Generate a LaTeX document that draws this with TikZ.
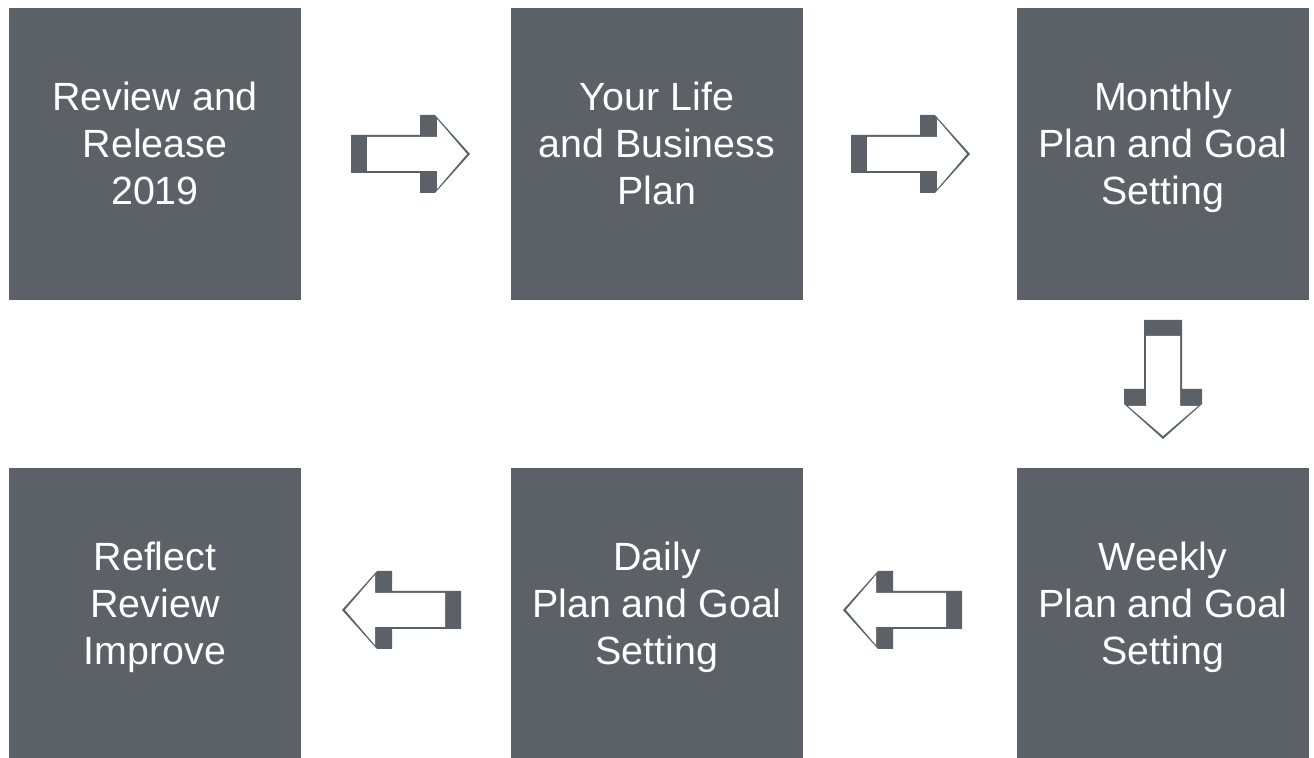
\documentclass[tikz,border=0pt]{standalone}
\usepackage{fontspec}
\setmainfont{Liberation Sans}
\usepackage{xcolor}
\usetikzlibrary{calc}

\definecolor{slate}{RGB}{92,96,103}

% box text sits a little above the middle of the box
\newcommand\steptext[1]{\raisebox{0.06cm}[\height][\depth]{\begin{tabular}{@{}c@{}}#1\end{tabular}}}

% hollow block arrow pointing right, drawn around its own origin
\tikzset{
  blockarrow/.pic={
    \fill[slate] (-59,19) -- (10,19) -- (10,39) -- (25,39) -- (60,0)
      -- (25,-39) -- (10,-39) -- (10,-19) -- (-59,-19) -- cycle;
    \fill[white] (-43,17) -- (27,17) -- (27,35) -- (57,0)
      -- (27,-35) -- (27,-17) -- (-43,-17) -- cycle;
  }
}

\begin{document}
\begin{tikzpicture}[x=0.01cm,y=-0.01cm,
    step box/.style={fill=slate,text=white,minimum width=2.92cm,
      minimum height=2.92cm,inner sep=0pt,
      font=\fontsize{11.2}{13.5}\selectfont}]
  \useasboundingbox (0,0) rectangle (1314,758);

  \node[step box] (review)  at (155,154)  {\steptext{Review and\\Release\\2019}};
  \node[step box] (life)    at (657,154)  {\steptext{Your Life\\and Business\\Plan}};
  \node[step box] (monthly) at (1163,154) {\steptext{Monthly\\Plan and Goal\\Setting}};
  \node[step box] (weekly)  at (1163,614) {\steptext{Weekly\\Plan and Goal\\Setting}};
  \node[step box] (daily)   at (657,614)  {\steptext{Daily\\Plan and Goal\\Setting}};
  \node[step box] (reflect) at (155,614)  {\steptext{Reflect\\Review\\Improve}};

  % arrows between the steps
  \path ($(review.east)!0.5!(life.west)+(4,0)$)    pic {blockarrow};
  \path ($(life.east)!0.5!(monthly.west)$)         pic {blockarrow};
  \path ($(monthly.south)!0.5!(weekly.north)+(0,-5)$) pic[rotate=-90] {blockarrow};
  \path ($(weekly.west)!0.5!(daily.east)+(-7,-4)$)   pic[rotate=180] {blockarrow};
  \path ($(daily.west)!0.5!(reflect.east)+(-4,-4)$)  pic[rotate=180] {blockarrow};
\end{tikzpicture}
\end{document}
